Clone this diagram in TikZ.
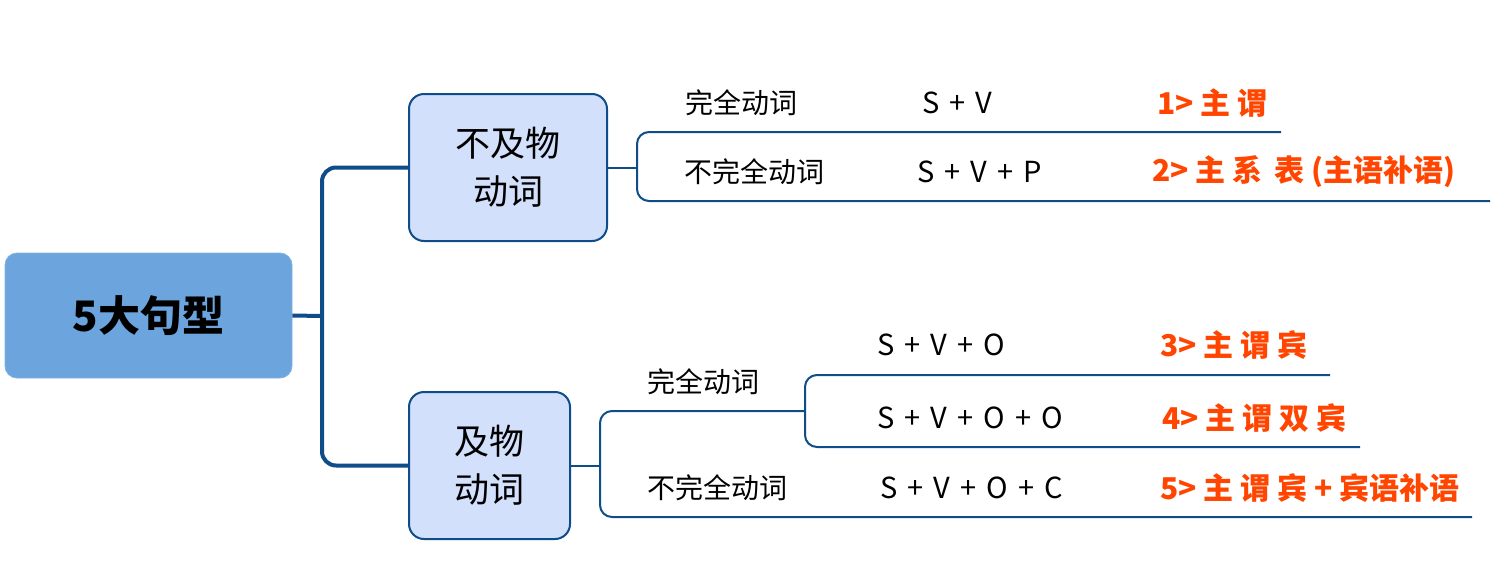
\documentclass[tikz,border=0pt]{standalone}
\usepackage{fontspec}
\setmainfont{Noto Sans CJK SC}
\newfontfamily\cjk{Noto Sans CJK SC}
\newcommand\widesp{\spaceskip 5pt\relax}
\definecolor{lineblue}{HTML}{0F4C8A}
\definecolor{mainfill}{HTML}{6CA4DE}
\definecolor{boxfill}{HTML}{D3E0FB}
\definecolor{redlab}{HTML}{FF4500}
\begin{document}
\begin{tikzpicture}[x=0.5pt,y=-0.5pt,
  mainbox/.style={fill=mainfill,draw=mainfill!85!white,rounded corners=6pt,minimum width=143.5pt,minimum height=62.5pt,inner sep=0pt,font=\cjk\bfseries\fontsize{21pt}{24pt}\selectfont},
  subbox/.style={fill=boxfill,draw=lineblue,line width=1pt,rounded corners=7.5pt,minimum height=73.5pt,inner sep=0pt,align=center,font=\cjk\fontsize{17.5pt}{24pt}\selectfont},
  thickline/.style={draw=lineblue,line width=2pt,rounded corners=7pt},
  thinline/.style={draw=lineblue,line width=1pt,rounded corners=6pt},
  lab/.style={anchor=west,inner sep=0pt,font=\cjk\fontsize{14pt}{16pt}\selectfont},
  formula/.style={anchor=west,inner sep=0pt,font=\cjk\fontsize{14.5pt}{16pt}\selectfont\widesp},
  redtxt/.style={anchor=west,inner sep=0pt,text=redlab,font=\cjk\bfseries\fontsize{15pt}{17pt}\selectfont}]
\useasboundingbox (0,0) rectangle (1504,584);
% nodes
\node[mainbox] (main) at (148.5,315.5) {5大句型};
\node[subbox,minimum width=99pt] (b1) at (508,167.5) {不及物\\动词};
\node[subbox,minimum width=80.5pt] (b2) at (489.5,465.5) {及物\\动词};
% coordinates
\coordinate (f0) at (322,316);
\coordinate (f1) at (637,167.5);
\coordinate (e1) at (1281,132);
\coordinate (e2) at (1490,201);
\coordinate (f2) at (600,465.5);
\coordinate (f3) at (805,411);
\coordinate (e3) at (1330,375);
\coordinate (e4) at (1360,447);
\coordinate (e5) at (1472,517);
% connectors
\draw[thickline] (main.east) -- (f0);
\draw[thickline] (b1.west) -| (f0) |- (b2.west);
\draw[thinline] (b1.east) -- (f1);
\draw[thinline] (e1) -| (f1) |- (e2);
\draw[thinline] (b2.east) -- (f2);
\draw[thinline] (f3) -| (f2) |- (e5);
\draw[thinline] (e3) -| (f3) |- (e4);
% labels
\node[lab] (t1) at (685,103) {完全动词};
\node[formula] (s1) at (922,103) {S + V};
\node[redtxt] (r1) at (1157,103) {1> 主 谓};
\node[lab] (t2) at (684,172) {不完全动词};
\node[formula] (s2) at (917,172) {S + V + P};
\node[redtxt] (r2) at (1152,172) {2> 主 系\, 表 (主语补语)};
\node[lab] (t3) at (647,382) {完全动词};
\node[lab] (t4) at (647,488) {不完全动词};
\node[formula] (s3) at (877,345) {S + V + O};
\node[formula] (s4) at (877,418) {S + V + O + O};
\node[formula] (s5) at (880,488) {S + V + O + C};
\node[redtxt] (r3) at (1160,345) {3> 主 谓 宾};
\node[redtxt] (r4) at (1162,418) {4> 主 谓 双 宾};
\node[redtxt] (r5) at (1160,488) {5> 主 谓 宾 + 宾语补语};
\end{tikzpicture}
\end{document}
